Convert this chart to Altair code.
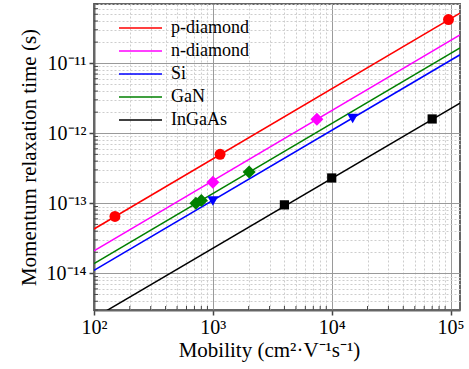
import altair as alt
import pandas as pd
import math

# ---------------- data ----------------
series = ["p-diamond", "n-diamond", "Si", "GaN", "InGaAs"]
colors = ["#ff0000", "#ff00ff", "#0000ff", "#008000", "#000000"]
shapes = ["circle", "diamond", "triangle-down", "diamond", "square"]
marker_sizes = [120, 170, 120, 170, 85]

# fitted lines (end points)
line_mu = [100, 120000]
line_p = [4.3e-14, 5.2e-11]
line_n = [2.1e-14, 2.53e-11]
line_si = [1.1e-14, 1.32e-11]
line_gan = [1.38e-14, 1.66e-11]
line_ingaas = [2.3e-15, 2.7e-12]

# measured points
pts_p_mu = [150, 1150, 96000]
pts_p_tau = [6.5e-14, 5.0e-13, 4.2e-11]
pts_n_mu = [1000, 7500]
pts_n_tau = [2.0e-13, 1.58e-12]
pts_si_mu = [1000, 15000]
pts_si_tau = [1.08e-13, 1.63e-12]
pts_gan_mu = [720, 800, 2020]
pts_gan_tau = [1.0e-13, 1.1e-13, 2.8e-13]
pts_ingaas_mu = [4000, 10000, 70000]
pts_ingaas_tau = [9.5e-14, 2.3e-13, 1.6e-12]

# axes
x_domain = [100, 120000]
y_domain = [3e-15, 7e-11]
x_major = [1e2, 1e3, 1e4, 1e5]
x_labels = ["10²", "10³", "10⁴", "10⁵"]
x_minor = [200, 300, 400, 500, 600, 700, 800, 900,
           2000, 3000, 4000, 5000, 6000, 7000, 8000, 9000,
           20000, 30000, 40000, 50000, 60000, 70000, 80000, 90000]
y_major = [1e-14, 1e-13, 1e-12, 1e-11]
y_labels = ["10⁻¹⁴", "10⁻¹³", "10⁻¹²", "10⁻¹¹"]
y_minor = [3e-15, 4e-15, 5e-15, 6e-15, 7e-15, 8e-15, 9e-15,
           2e-14, 3e-14, 4e-14, 5e-14, 6e-14, 7e-14, 8e-14, 9e-14,
           2e-13, 3e-13, 4e-13, 5e-13, 6e-13, 7e-13, 8e-13, 9e-13,
           2e-12, 3e-12, 4e-12, 5e-12, 6e-12, 7e-12, 8e-12, 9e-12,
           2e-11, 3e-11, 4e-11, 5e-11, 6e-11, 7e-11]

# ---------------- tables ----------------
line_vals = [line_p, line_n, line_si, line_gan, line_ingaas]
lines_df = pd.DataFrame([
    {"series": s, "mu": m, "tau": t}
    for s, vals in zip(series, line_vals) for m, t in zip(line_mu, vals)
])
pts = [(pts_p_mu, pts_p_tau), (pts_n_mu, pts_n_tau), (pts_si_mu, pts_si_tau),
       (pts_gan_mu, pts_gan_tau), (pts_ingaas_mu, pts_ingaas_tau)]
xminor_df = pd.DataFrame({"mu": x_minor})
yminor_df = pd.DataFrame({"tau": y_minor})

FONT = "Liberation Serif"
is_major = "abs(log(datum.value)/LN10 - round(log(datum.value)/LN10)) < 0.000001"
expo = "round(log(datum.value)/LN10)"


def label_expr(majors, labels):
    expr = "''"
    for v, lab in zip(majors, labels):
        e = int(round(math.log10(v)))
        expr = f"({expo} == {e} ? '{lab}' : {expr})"
    return f"({is_major}) ? {expr} : ''"


def grid_axis(values, majors, labels, title, **kw):
    return alt.Axis(
        values=values,
        labelExpr=label_expr(majors, labels),
        title=title,
        grid=True,
        gridColor={"condition": {"test": is_major, "value": "#9a9a9a"}, "value": "#cdcdcd"},
        gridDash={"condition": {"test": is_major, "value": []}, "value": [2, 2]},
        gridWidth=1,
        tickOpacity={"condition": {"test": is_major, "value": 1}, "value": 0},
        tickSize=5,
        tickColor="#444444",
        tickWidth=1.5,
        domainColor="#666666",
        domainWidth=2,
        labelFont=FONT,
        labelFontSize=20,
        labelColor="black",
        labelOverlap=False,
        labelFlush=False,
        titleFont=FONT,
        titleFontSize=21,
        titleFontWeight="normal",
        titleColor="black",
        **kw,
    )


xscale = alt.Scale(type="log", domain=x_domain, nice=False)
yscale = alt.Scale(type="log", domain=y_domain, nice=False)
cscale = alt.Scale(domain=series, range=colors)

x_axis = grid_axis(x_major + x_minor, x_major, x_labels, "Mobility (cm²·V⁻¹s⁻¹)",
                   labelPadding=2, titleX=175, titleY=46, titleBaseline="alphabetic")
y_axis = grid_axis(y_major + y_minor, y_major, y_labels, "Momentum relaxation time (s)",
                   labelPadding=3, titleX=-59, titleY=153, titleBaseline="alphabetic",
                   titleAngle=270)

X = alt.X("mu:Q", scale=xscale, axis=x_axis)
Y = alt.Y("tau:Q", scale=yscale, axis=y_axis)

lines = alt.Chart(lines_df).mark_line(clip=True, strokeWidth=1.5).encode(
    x=X, y=Y,
    color=alt.Color("series:N", scale=cscale, sort=series,
                    legend=alt.Legend(
                        orient="none", legendX=24, legendY=16, title=None,
                        symbolType="stroke", symbolSize=1850, symbolStrokeWidth=1.5,
                        clipHeight=16, rowPadding=5, padding=0,
                        labelFont=FONT, labelFontSize=18, labelColor="black",
                        labelOffset=8)),
    detail="series:N",
)

point_layers = []
for s, c, sh, sz, (ms, ts) in zip(series, colors, shapes, marker_sizes, pts):
    df = pd.DataFrame({"mu": ms, "tau": ts})
    point_layers.append(
        alt.Chart(df).mark_point(filled=True, size=sz, opacity=1, color=c, shape=sh)
        .encode(x=X, y=Y)
    )

xticks = alt.Chart(xminor_df).mark_rule(color="#444444", strokeWidth=1).encode(
    x=X, y=alt.value(306), y2=alt.value(302),
)
yticks = alt.Chart(yminor_df).mark_rule(color="#444444", strokeWidth=1).encode(
    y=Y, x=alt.value(0), x2=alt.value(4),
)

chart = alt.layer(lines, *point_layers, xticks, yticks).properties(
    width=366, height=306,
    autosize=alt.AutoSizeParams(type="none"),
    padding={"left": 94, "top": 4, "right": 9, "bottom": 59},
    background="white",
).configure_view(stroke="#666666", strokeWidth=2)

chart.save("out.html", embed_options={"renderer": "svg", "actions": False})
